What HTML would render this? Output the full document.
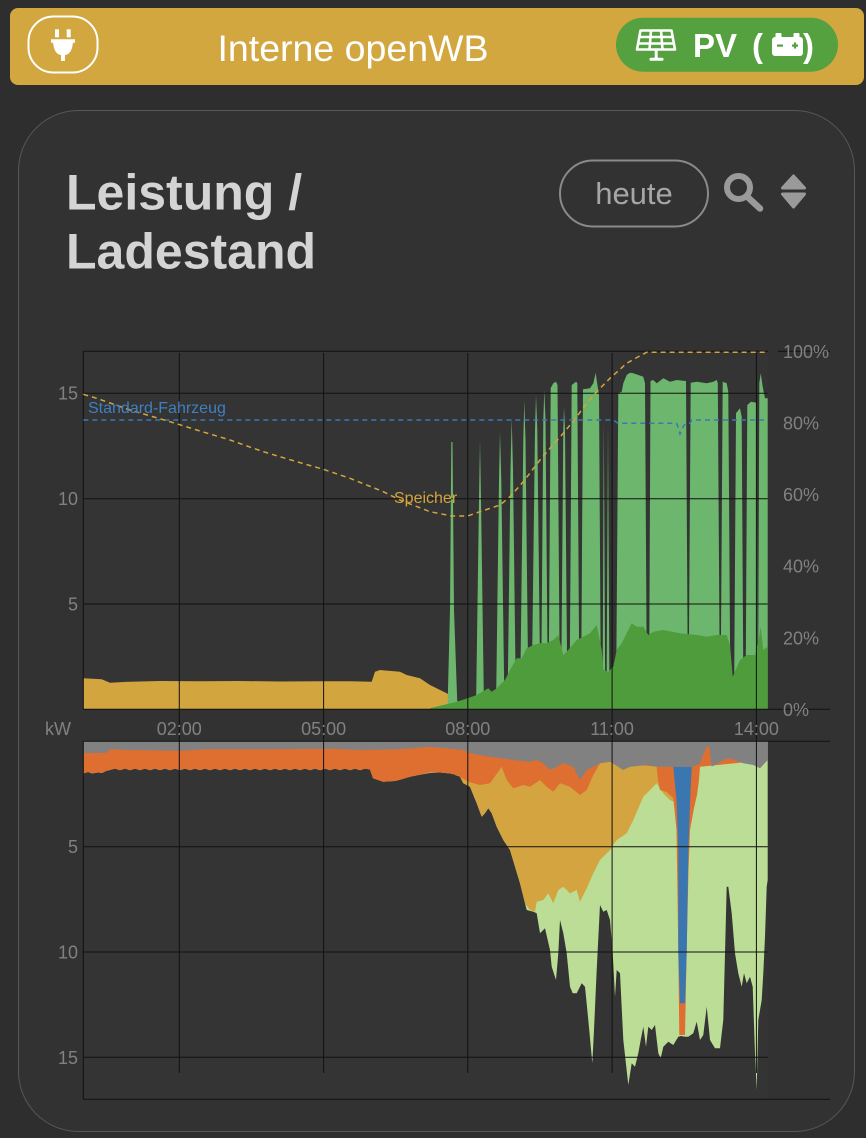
<!DOCTYPE html>
<html>
<head>
<meta charset="utf-8">
<style>
  html, body { margin:0; padding:0; background:#2e2e2e; }
  body { width:866px; height:1138px; overflow:hidden; position:relative; font-family:"Liberation Sans", Arial, sans-serif; }
  svg { position:absolute; left:0; top:0; }
  text { font-family:"Liberation Sans", Arial, sans-serif; }
</style>
</head>
<body>
<svg width="866" height="1138" viewBox="0 0 866 1138" xmlns="http://www.w3.org/2000/svg">
  <!-- page bg -->
  <rect x="0" y="0" width="866" height="1138" fill="#2e2e2e"/>

  <!-- header bar -->
  <rect x="10" y="8" width="854" height="77" rx="8" fill="#d2a740"/>
  <!-- plug icon -->
  <rect x="28.5" y="16.5" width="69" height="56" rx="25" fill="none" stroke="#ffffff" stroke-width="2"/>
  <rect x="55" y="29.3" width="4" height="8" fill="#fff"/>
  <rect x="66.7" y="29.3" width="4" height="8" fill="#fff"/>
  <path d="M51,39.3 L75,39.3 L75,42.7 L73,42.7 L72,48 Q70,54.5 65,55 L65,61 L61,61 L61,55 Q56,54.5 54,48 L53,42.7 L51,42.7 Z" fill="#fff"/>
  <text x="353" y="61" font-size="37.5" fill="#ffffff" text-anchor="middle">Interne openWB</text>

  <!-- PV badge -->
  <rect x="616" y="17.7" width="222" height="54" rx="27" fill="#55a03f"/>
  <!-- solar panel -->
  <g stroke="#fff" stroke-width="2.6" fill="none" stroke-linejoin="round">
    <path d="M640.5,30.5 L671.5,30.5 L675,49.5 L637,49.5 Z"/>
    <path d="M639,37 L673,37 M638,43.5 L674,43.5"/>
    <path d="M651,30.5 L649.5,49.5 M661,30.5 L662.5,49.5"/>
  </g>
  <rect x="654.7" y="49" width="3" height="9" fill="#fff"/>
  <rect x="649.5" y="57.8" width="14" height="3" rx="1.2" fill="#fff"/>
  <text x="693" y="57" font-size="33" font-weight="bold" fill="#fff">PV</text>
  <text x="752" y="57" font-size="33" font-weight="bold" fill="#fff">(</text>
  <!-- battery -->
  <rect x="775.5" y="33" width="6" height="5" rx="1" fill="#fff"/>
  <rect x="793.5" y="33" width="6" height="5" rx="1" fill="#fff"/>
  <rect x="772" y="37" width="31" height="19" rx="3" fill="#fff"/>
  <rect x="777" y="44.5" width="6" height="2.2" fill="#55a03f"/>
  <rect x="792" y="44.5" width="6" height="2.2" fill="#55a03f"/>
  <rect x="793.9" y="42.5" width="2.2" height="6" fill="#55a03f"/>
  <text x="803" y="57" font-size="33" font-weight="bold" fill="#fff">)</text>

  <!-- card -->
  <rect x="18.5" y="110.5" width="836" height="1021" rx="60" fill="#323232" stroke="#575757" stroke-width="1"/>

  <!-- title -->
  <text x="66" y="209.5" font-size="50" font-weight="bold" fill="#d4d4d4">Leistung /</text>
  <text x="66" y="268.5" font-size="50" font-weight="bold" fill="#d4d4d4">Ladestand</text>

  <!-- heute pill -->
  <rect x="560" y="160.5" width="148" height="66" rx="33" fill="none" stroke="#8a8a8a" stroke-width="2"/>
  <text x="634" y="204" font-size="31" fill="#a6a6a6" text-anchor="middle">heute</text>
  <!-- magnifier -->
  <circle cx="738.5" cy="187.5" r="11.5" fill="none" stroke="#9a9a9a" stroke-width="6"/>
  <line x1="747" y1="196.5" x2="760" y2="208.5" stroke="#9a9a9a" stroke-width="6.5" stroke-linecap="round"/>
  <!-- sort -->
  <path d="M793.5,176 L804.5,188 L782.5,188 Z" fill="#9a9a9a" stroke="#9a9a9a" stroke-width="3" stroke-linejoin="round"/>
  <path d="M782.5,194 L804.5,194 L793.5,207 Z" fill="#9a9a9a" stroke="#9a9a9a" stroke-width="3" stroke-linejoin="round"/>

  <!-- plot backgrounds -->
  <rect x="83.3" y="351.3" width="684.4" height="358" fill="#333433"/>
  <rect x="83.3" y="741.3" width="684.4" height="358" fill="#333433"/>

  <!-- ===== TOP CHART AREAS ===== -->
  <!-- yellow (Speicher) -->
  <path d="M83.3,709.3 L83.3,678.3 L101.7,679.3 L110,682.7 L130,681.7 L160,681 L200,681.3 L240,681 L280,681.5 L320,681.3 L350,681.3 L371.7,681.7 L375,671.7 L380,670 L400,671.7 L406.7,675 L420,678.3 L430,685 L446.7,693.3 L456.7,700 L460,705 L461,709.3 Z" fill="#d3a53f"/>
  <!-- light green spikes -->
  <path fill="#6cb66e" d="
    M447.5,709 L450,610 L451.3,442 L452.5,442 L454,610 L457.5,709 Z
    M476,709 L479,500 L480,440 L481,500 L484,709 Z
    M496,709 L499,480 L500,432 L501.3,480 L504.5,709 Z
    M507.5,709 L510.5,470 L511.7,418 L513,470 L516,709 Z
    M520,709 L523.3,440 L524.3,400 L525.5,440 L528.5,709 Z
    M531.5,709 L535,430 L536,395 L537.3,430 L540.5,709 Z
    M541,709 L543.3,420 L544.3,390 L545.5,420 L548,709 Z
    M548.5,709 L550.7,388 L553.3,383.3 L556,381.7 L557.5,385 L560,709 Z
    M561,709 L563.3,430 L564,406.7 L565,430 L567.5,709 Z
    M569.5,709 L571.7,385 L574,383.3 L576,381.7 L577.3,383 L579.5,709 Z
    M581,709 L583,389.3 L590,388.3 L593.3,383.3 L595.7,372.7 L596.7,380 L599,395 L601,709 Z
    M602.5,709 L603.8,420 L605.3,709 Z
    M606.5,709 L608,425 L609.5,709 Z
    M616,709 L618.3,393.3 L621.7,391.7 L623.3,383.3 L626.7,375 L630,372.7 L633.3,373.3 L638.3,375 L643.3,376.7 L645,383.3 L647,709 Z
    M649,709 L650.5,381 L653.3,380 L656.7,383.3 L663.3,378.3 L670,381.7 L676.7,380 L683.3,380.7 L686,381 L688,709 Z
    M688.5,709 L690.7,382.7 L696.7,381.7 L706.7,383.3 L713.3,381.7 L716.7,380 L717.8,383 L720,709 Z
    M720.5,709 L722.7,381.7 L726.7,383.3 L728.3,391.7 L730.5,709 Z
    M734,709 L736,413.3 L740,408.3 L741.7,416.7 L743.5,709 Z
    M745.5,709 L747.3,405 L751,401.7 L756.7,402.7 L757.5,709 Z
    M758,709 L759.3,383.3 L760.7,373.3 L762.7,386.7 L765,398.3 L767.7,398.3 L767.7,709 Z"/>
  <!-- dark green -->
  <path fill="#4f9c3c" d="M430,709.3 L430,708.3 L456.7,701.7 L467.7,698.3 L476.7,695 L488.3,688.3 L491.7,691.7 L496.7,688.3 L505,680 L510,670 L516.7,658.3 L521.7,658.3 L526.7,648.3 L533.3,645 L540,643.3 L546.7,643.3 L553.3,640 L558.3,635 L563.3,655 L566.7,651.7 L576.7,640 L583.3,636.7 L590,633.3 L596.7,625 L601.7,650 L603.3,670 L608.3,671.7 L613.3,666.7 L616.7,650 L621.7,643.3 L626.7,633.3 L631.7,623.3 L636.7,626.7 L643.3,626.7 L648.3,635 L653.3,631.7 L663.3,630 L680,633.3 L696.7,635 L706.7,636.7 L716.7,635 L726.7,635 L730,645 L732.7,676.7 L740,660 L746.7,655 L755,655 L758.3,643.3 L760.7,626.7 L763.3,650 L767.7,646.7 L767.7,709.3 Z"/>

  <!-- ===== BOTTOM CHART AREAS ===== -->
  <!-- light green envelope -->
  <path fill="#bbdd95" d="M83.3,741.3 L83.3,773.5 L88,772 L92,773.5 L98,772.5 L102,773 L106,771 L110,770 L115,768.6 L120,770.2 L125,768.6 L130,770.2 L135,768.6 L140,770.2 L145,768.6 L150,770.2 L155,768.6 L160,770.2 L165,768.6 L170,770.2 L175,768.6 L180,770.2 L185,768.6 L190,770.2 L195,768.6 L200,770.2 L205,768.6 L210,770.2 L215,768.6 L220,770.2 L225,768.6 L230,770.2 L235,768.6 L240,770.2 L245,768.6 L250,770.2 L255,768.6 L260,770.2 L265,768.6 L270,770.2 L275,768.6 L280,770.2 L285,768.6 L290,770.2 L295,768.6 L300,770.2 L305,768.6 L310,770.2 L315,768.6 L320,770.2 L325,768.6 L330,770.2 L335,768.6 L340,770.2 L345,768.6 L350,770.2 L355,768.6 L360,770.2 L365,768.6 L370,769.5 L373,778.3 L383,781.7 L395,781 L400,779.7 L410,776.7 L420,774.7 L430,773 L440,772.5 L450,773.5 L457,775 L460,776.7 L463.3,783.3 L470,786.7 L476.7,803.3 L481.7,816.7 L485,813.3 L488.3,808.3 L491.7,813.3 L496.7,826.7 L503.3,840 L510,850 L515,866.7 L520,883.3 L525,903.3 L526.7,910 L533.3,911.7 L536.7,913.3 L540,933.3 L545,928.3 L550,950 L551.7,966.7 L556,980 L558.3,953.3 L560,920 L563.3,933.3 L566.7,953.3 L570,986.7 L572.7,993.3 L576.7,993.3 L581.7,983.3 L585,986.7 L588.3,1020 L592.3,1063.3 L594,1030 L596.7,970 L600,905 L603.3,911.7 L606.7,910 L610,920 L612.7,953.3 L615,996.7 L616.7,970 L620,973.3 L623.3,1040 L628.3,1085 L631.7,1063.3 L635,1066.7 L638.3,1053.3 L640.7,1040 L643.3,1026.7 L646,1046.7 L648.3,1026.7 L651.7,1030 L655,1025 L658.3,1053.3 L660.7,1058.3 L663.3,1046.7 L668.3,1041.7 L673.3,1045 L678.3,1036.7 L681,1036 L685,1036.7 L688.3,1036.7 L693.3,1033.3 L696.7,1021.7 L700,1040 L703.3,1035 L706.7,1006.7 L710,1040 L715,1048.3 L720,1048.3 L723.3,1020 L726.7,886.7 L728.3,886.7 L731.7,913.3 L735,953.3 L738.3,973.3 L741.7,986.7 L744,973.3 L746.7,983.3 L750,976.7 L752.7,986.7 L755,1053.3 L756.7,1090 L758.3,1020 L761.7,1000 L763.3,973.3 L765,936.7 L766.7,886.7 L767.7,880 L767.7,741.3 Z"/>
  <!-- yellow -->
  <path fill="#d3a43f" d="M455,741.3 L455,775 L460,776.7 L463.3,783.3 L470,786.7 L476.7,803.3 L481.7,816.7 L485,813.3 L488.3,808.3 L491.7,813.3 L496.7,826.7 L503.3,840 L510,850 L515,866.7 L520,883.3 L525,903.3 L530,910 L535,911.7 L536.7,901.7 L543.3,900 L548.3,893.3 L553.3,903.3 L558.3,890 L563.3,886.7 L570,893.3 L576.7,890 L580,901.7 L586.7,888.3 L593.3,873.3 L600,860 L610,850 L616.7,840 L621.7,836.7 L626.7,833.3 L633.3,820 L643.3,796.7 L650,790 L656.7,783.3 L663.3,793.3 L670,800 L676.7,803.3 L680,767 L680,741.3 Z"/>
  <!-- orange -->
  <path fill="#df6e31" d="M83.3,741.3 L83.3,773.5 L88,772 L92,773.5 L98,772.5 L102,773 L106,771 L110,770 L115,768.6 L120,770.2 L125,768.6 L130,770.2 L135,768.6 L140,770.2 L145,768.6 L150,770.2 L155,768.6 L160,770.2 L165,768.6 L170,770.2 L175,768.6 L180,770.2 L185,768.6 L190,770.2 L195,768.6 L200,770.2 L205,768.6 L210,770.2 L215,768.6 L220,770.2 L225,768.6 L230,770.2 L235,768.6 L240,770.2 L245,768.6 L250,770.2 L255,768.6 L260,770.2 L265,768.6 L270,770.2 L275,768.6 L280,770.2 L285,768.6 L290,770.2 L295,768.6 L300,770.2 L305,768.6 L310,770.2 L315,768.6 L320,770.2 L325,768.6 L330,770.2 L335,768.6 L340,770.2 L345,768.6 L350,770.2 L355,768.6 L360,770.2 L365,768.6 L370,769.5 L373,778.3 L383,781.7 L395,781 L400,779.7 L410,776.7 L420,774.7 L430,772.5 L440,772.5 L450,773.5 L457,775 L460,776.7 L468.3,781.7 L480,785 L490,783.3 L501.7,766.7 L506.7,780 L513.3,788.3 L523.3,785 L530,786.7 L540,780 L546.7,786.7 L553.3,791.7 L560,783.3 L570,786.7 L580,795 L586.7,790 L593.3,775 L600,763.3 L610,761.7 L656.7,766.7 L658,780 L660,790 L666.7,792 L673.3,798 L676.5,830 L678.3,950 L679.3,1035 L685,1035 L686.7,950 L688.5,870 L690,830 L694,808 L697,795 L699,780 L700,766.7 L767.7,760 L767.7,741.3 Z"/>
  <!-- blue -->
  <path fill="#3a76b0" d="M673.3,766.7 L691.7,766.7 L690,803 L688.3,853 L686.7,953 L685,1003.3 L680,1003.3 L678.3,953 L678.3,853 L676.7,803 Z"/>
  <!-- gray -->
  <path fill="#818181" d="M83.3,741.3 L83.3,753.3 L106.7,752.7 L110,749.3 L130,750 L180,750.7 L207,749.3 L263,749.3 L330,748.7 L363,750 L397,749.3 L413,748.3 L430,746.7 L463.3,750 L470,753.3 L490,756.7 L513.3,760 L530,761.7 L536.7,760 L543.3,763.3 L550,770 L556.7,766.7 L563.3,763.3 L573.3,766.7 L580,780 L586.7,770 L593.3,766.7 L600,763.3 L610,761.7 L623.3,770 L630,766.7 L646.7,765 L656.7,766.7 L673.3,766.7 L693.3,766.7 L700,763.3 L703,755 L706.7,746.7 L709.3,746.7 L711.7,766.7 L723.3,760 L730,758.3 L743.3,763.3 L753.3,765 L760,768.3 L767.7,760 L767.7,741.3 Z"/>

  <!-- ===== GRID / AXES ===== -->
  <g stroke="#111" stroke-width="1" fill="none">
    <!-- vertical gridlines -->
    <line x1="179.3" y1="353" x2="179.3" y2="1073"/>
    <line x1="323.6" y1="353" x2="323.6" y2="1073"/>
    <line x1="467.8" y1="353" x2="467.8" y2="1073"/>
    <line x1="612.1" y1="353" x2="612.1" y2="1073"/>
    <line x1="756.4" y1="353" x2="756.4" y2="1073"/>
    <!-- top chart -->
    <line x1="83.3" y1="351.3" x2="768" y2="351.3"/>
    <line x1="778" y1="351.3" x2="830" y2="351.3"/>
    <line x1="83.3" y1="393.3" x2="767.7" y2="393.3"/>
    <line x1="83.3" y1="498.7" x2="767.7" y2="498.7"/>
    <line x1="83.3" y1="604" x2="767.7" y2="604"/>
    <line x1="83.3" y1="709.3" x2="830" y2="709.3"/>
    <line x1="83.3" y1="351.3" x2="83.3" y2="709.3"/>
    <!-- bottom chart -->
    <line x1="83.3" y1="741.3" x2="830" y2="741.3"/>
    <line x1="83.3" y1="846.7" x2="767.7" y2="846.7"/>
    <line x1="83.3" y1="952" x2="767.7" y2="952"/>
    <line x1="83.3" y1="1057.3" x2="767.7" y2="1057.3"/>
    <line x1="83.3" y1="1099.3" x2="830" y2="1099.3"/>
    <line x1="83.3" y1="741.3" x2="83.3" y2="1099.3"/>
  </g>

  <!-- SoC lines -->
  <path d="M83.3,420 L613.3,420 L618,423.3 L676.7,423.3 L680,434 L683.5,426 L686,423.3 L690,423.3 L691.7,420 L767.7,420" fill="none" stroke="#3b78b4" stroke-width="1.5" stroke-dasharray="5,4"/>
  <path d="M83.3,394.3 L96.7,398.3 L130,410 L170,421.7 L196.7,430 L230,440 L263.3,451.7 L296.7,461.7 L323.3,469.3 L350,478.3 L383.3,491.7 L400,500 L430,511.7 L451.7,516 L467.7,516 L480,511.7 L500,505 L510,496.7 L523.3,481.7 L540,460 L550,448.3 L563.3,433.3 L576.7,416.7 L586.7,403.3 L596.7,391.7 L610,378.3 L626.7,363.3 L636,358 L646.7,352.3 L767.7,352.3" fill="none" stroke="#d4a53f" stroke-width="1.5" stroke-dasharray="5,4"/>

  <text x="88" y="413" font-size="16" fill="#3f80c2">Standard-Fahrzeug</text>
  <text x="394" y="503" font-size="16" fill="#d4a53f">Speicher</text>

  <!-- axis labels -->
  <g font-size="18" fill="#818181">
    <text x="78" y="399.5" text-anchor="end">15</text>
    <text x="78" y="505" text-anchor="end">10</text>
    <text x="78" y="610.5" text-anchor="end">5</text>
    <text x="45" y="735">kW</text>
    <text x="179.3" y="735" text-anchor="middle">02:00</text>
    <text x="323.6" y="735" text-anchor="middle">05:00</text>
    <text x="467.8" y="735" text-anchor="middle">08:00</text>
    <text x="612.1" y="735" text-anchor="middle">11:00</text>
    <text x="756.4" y="735" text-anchor="middle">14:00</text>
    <text x="78" y="853" text-anchor="end">5</text>
    <text x="78" y="958.5" text-anchor="end">10</text>
    <text x="78" y="1064" text-anchor="end">15</text>
    <text x="783" y="357.8">100%</text>
    <text x="783" y="429.5">80%</text>
    <text x="783" y="501">60%</text>
    <text x="783" y="572.7">40%</text>
    <text x="783" y="644.3">20%</text>
    <text x="783" y="716">0%</text>
  </g>
</svg>
</body>
</html>
